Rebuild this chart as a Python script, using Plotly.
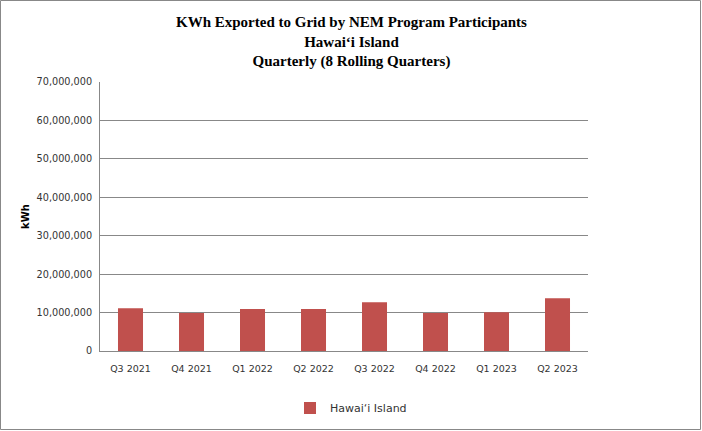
import plotly.graph_objects as go

quarters = ["Q3 2021", "Q4 2021", "Q1 2022", "Q2 2022", "Q3 2022", "Q4 2022", "Q1 2023", "Q2 2023"]
kwh = [11100000, 9900000, 10900000, 10900000, 12700000, 9900000, 10100000, 13700000]
series_name = "Hawai\u2018i Island"
title_lines = ["KWh Exported to Grid by NEM Program Participants", "Hawai\u2018i Island", "Quarterly (8 Rolling Quarters)"]

W, H = 702, 431
L, R, T, B = 100, 114, 82, 80
pw, ph = W - L - R, H - T - B
SANS = "DejaVu Sans, Verdana, sans-serif"

fig = go.Figure()
fig.add_trace(go.Bar(
    x=quarters, y=kwh, name=series_name,
    marker=dict(color="#C0504D", line=dict(width=0)),
    showlegend=True,
))

fig.update_layout(
    width=W, height=H,
    margin=dict(l=L, r=R, t=T, b=B, autoexpand=False),
    paper_bgcolor="white", plot_bgcolor="white",
    bargap=0.59,
    font=dict(family=SANS, size=9.5, color="#333333"),
    showlegend=True,
    legend=dict(orientation="h", x=290 / W, xanchor="left",
                xref="container", y=(H - 408) / H, yref="container", yanchor="middle",
                font=dict(family=SANS, size=11, color="#333333"), itemwidth=30),
    xaxis=dict(showline=True, linecolor="#888888", linewidth=1, ticks="",
               ticklabelstandoff=9,
               tickfont=dict(family=SANS, size=9.5, color="#333333"), showgrid=False),
    yaxis=dict(range=[0, 70000000], dtick=10000000, tickformat=",d",
               showline=True, linecolor="#888888", linewidth=1,
               gridcolor="#888888", gridwidth=1, ticks="", zeroline=False,
               ticklabelstandoff=5,
               tickfont=dict(family=SANS, size=9.7, color="#333333"),
               title=dict(text="<b>kWh</b>", font=dict(family=SANS, size=10, color="#000000"), standoff=5)),
)

fig.add_annotation(
    text="<br>".join(f"<b>{t}</b>" for t in title_lines),
    xref="paper", yref="paper",
    x=(W / 2 - L) / pw, y=1 + (T - 12) / ph, xanchor="center", yanchor="top",
    showarrow=False, align="center",
    font=dict(family="Liberation Serif, Times New Roman, serif", size=15, color="#000000"),
)

fig.add_shape(type="rect", xref="paper", yref="paper",
              x0=-(L - 0.5) / pw, x1=1 + (R - 1.5) / pw,
              y0=-(B - 1.5) / ph, y1=1 + (T - 0.5) / ph,
              line=dict(color="#888888", width=1), fillcolor="rgba(0,0,0,0)", layer="below")

fig.write_html("out.html", config={"displayModeBar": False},
               post_script="document.body.style.margin='0';document.body.style.overflow='hidden';")
